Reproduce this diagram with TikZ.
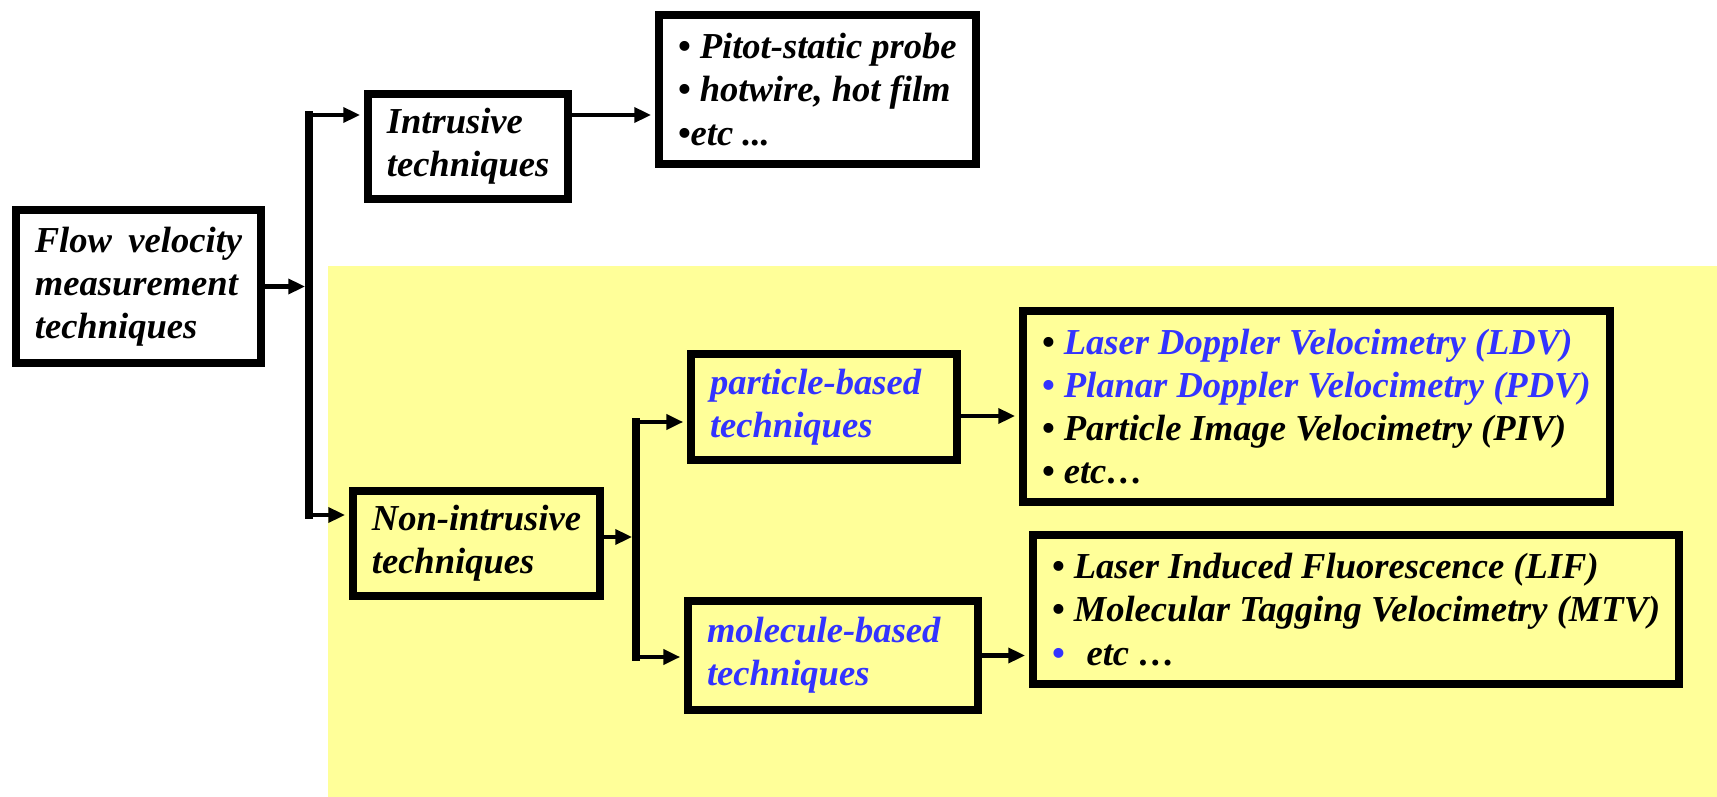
\documentclass[tikz,border=0pt]{standalone}
\usepackage{fontspec}
\setmainfont{Liberation Serif}
\usetikzlibrary{arrows.meta,positioning,calc}
\definecolor{techblue}{RGB}{51,51,255}
\definecolor{paleyellow}{RGB}{255,255,153}
\tikzset{
  techbox/.style={draw=black,line width=2.2pt,inner xsep=0.19cm,inner ysep=0pt,
    align=left,font=\fontsize{10.4}{12.3}\selectfont\bfseries\itshape},
  flowarrow/.style={-{Triangle[length=4.8pt,width=4.2pt]},line width=1.3pt,
    shorten >=1.1pt},
  trunkline/.style={line width=2.2pt,line cap=rect},
}

\begin{document}
\begin{tikzpicture}
\useasboundingbox (0,0) rectangle (17.17,-7.97);
\fill[paleyellow] (3.28,-2.66) rectangle (17.17,-7.97);
% left column
\node[techbox,anchor=west,minimum height=1.53cm](flow)
  at(0.12,-2.865){Flow\hspace{0.45em}velocity\\measurement\\techniques};
\node[techbox,anchor=west,minimum height=1.05cm](intr)
  at(3.64,-1.465){Intrusive\\techniques};
\node[techbox,anchor=west,minimum height=1.49cm](pitot)
  at(6.55,-0.895){\textbullet{} Pitot-static probe\\\textbullet{} hotwire, hot film\\\textbullet etc ...};
\node[techbox,anchor=west,minimum height=1.05cm](nonintr)
  at(3.49,-5.435){Non-intrusive\\techniques};
% yellow part
\node[techbox,text width=2.28cm,minimum height=1.06cm,text=techblue](particle)
  at(8.24,-4.07){particle-based\\techniques};
\node[techbox,text width=2.52cm,minimum height=1.09cm,text=techblue](molecule)
  at(8.33,-6.555){molecule-based\\techniques};
\node[techbox,anchor=west,minimum height=1.91cm](ldv)
  at(10.19,-4.065){\textbullet{} \textcolor{techblue}{Laser Doppler Velocimetry (LDV)}\\
  \textcolor{techblue}{\textbullet{} Planar Doppler Velocimetry (PDV)}\\
  \textbullet{} Particle Image Velocimetry (PIV)\\\textbullet{} etc…};
\node[techbox,anchor=west,minimum height=1.49cm](lif)
  at(10.29,-6.095){\textbullet{} Laser Induced Fluorescence (LIF)\\
  \textbullet{} Molecular Tagging Velocimetry (MTV)\\
  \textcolor{techblue}{\textbullet}\hspace{0.6em}etc …};
% first fork
\coordinate (fork) at (3.09,-2.865);
\coordinate (forktop) at (3.09,-1.15);
\coordinate (forkbot) at (3.09,-5.15);
\draw[trunkline] (forktop) -- (forkbot);
\draw[flowarrow] (flow.east) -- (fork);
\draw[flowarrow] (forktop) -- (forktop -| intr.west);
\draw[flowarrow] (forkbot) -- (forkbot -| nonintr.west);
\draw[flowarrow] (intr.east |- forktop) -- (pitot.west |- forktop);
% second fork
\coordinate (split) at (6.36,-5.37);
\coordinate (splittop) at (6.36,-4.22);
\coordinate (splitbot) at (6.36,-6.57);
\draw[trunkline] (splittop) -- (splitbot);
\draw[flowarrow] (nonintr.east |- split) -- (split);
\draw[flowarrow] (splittop) -- (splittop -| particle.west);
\draw[flowarrow] (splitbot) -- (splitbot -| molecule.west);
\draw[flowarrow] ([yshift=-0.09cm]particle.east) --
  ([yshift=-0.09cm]particle.east -| ldv.west);
\draw[flowarrow] (molecule.east) -- (molecule.east -| lif.west);
\end{tikzpicture}
\end{document}
